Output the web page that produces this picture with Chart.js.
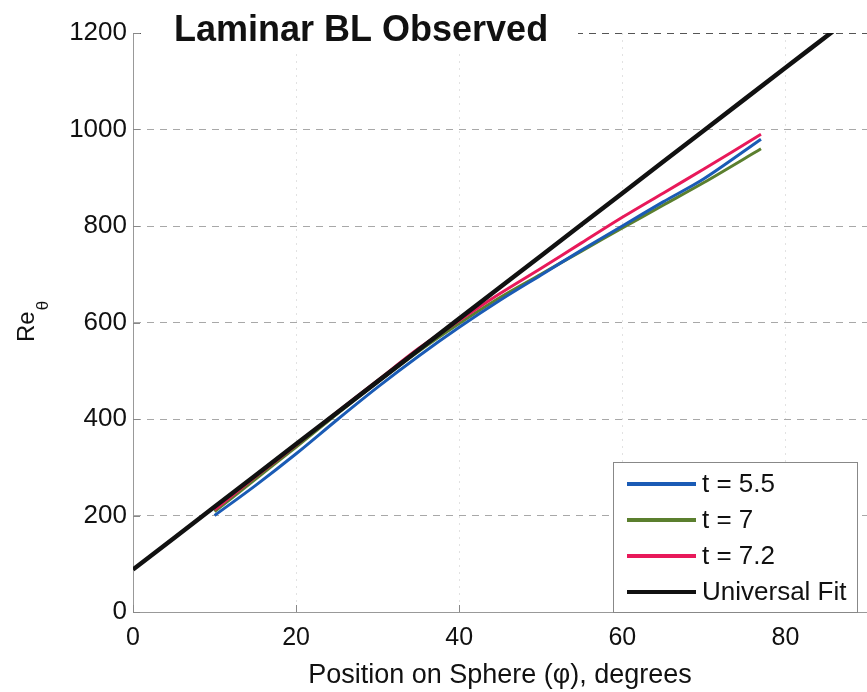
<!DOCTYPE html>
<html>
<head>
<meta charset="utf-8">
<script src="https://cdn.jsdelivr.net/npm/chart.js@4.4.0/dist/chart.umd.min.js"></script>
<style>
  html, body { margin: 0; padding: 0; background: #fff; }
  #wrap { width: 867px; height: 692px; position: relative; }
</style>
</head>
<body>
<div id="wrap"><canvas id="chart" width="867" height="692"></canvas></div>
<script>
// ---- data ----
const phi = [10, 15, 20, 25, 30, 35, 40, 45, 50, 55, 60, 65, 70, 77];
const reT55 = [200, 262, 328, 398, 466, 530, 590, 646, 698, 750, 800, 850, 898, 980];
const reT7 = [208, 275, 342, 410, 476, 540, 598, 652, 700, 748, 796, 843, 890, 960];
const reT72 = [212, 280, 346, 414, 480, 546, 604, 660, 712, 765, 818, 868, 918, 990];

const fitPhi = [0, 10, 20, 30, 40, 50, 60, 70, 80, 85.8];
const fitRe = [88, 218, 348, 478, 608, 738, 868, 998, 1128, 1203];

const seriesLabels = ['t = 5.5', 't = 7', 't = 7.2', 'Universal Fit'];
const seriesColors = ['#1a5bb5', '#5b7f2e', '#e8195a', '#111111'];

const yTicks = [0, 200, 400, 600, 800, 1000, 1200];
const xTicks = [0, 20, 40, 60, 80];

const FONT = "'Liberation Sans', Arial, Helvetica, sans-serif";

function pts(xs, ys) {
    return xs.map((x, i) => ({ x: x, y: ys[i] }));
}

// title drawn over the top of the plot box, with white behind it
const titlePlugin = {
    id: 'topTitle',
    afterDraw(chart) {
        const ctx = chart.ctx;
        ctx.save();
        ctx.fillStyle = '#fff';
        ctx.fillRect(142, 10, 436, 44);
        ctx.font = 'bold 36px ' + FONT;
        ctx.fillStyle = '#111';
        ctx.textBaseline = 'middle';
        ctx.fillText('Laminar BL Observed', 174, 31);
        ctx.restore();
    }
};

// y axis label Re with subscript theta
const yLabelPlugin = {
    id: 'yLabel',
    afterDraw(chart) {
        const ctx = chart.ctx;
        ctx.save();
        ctx.translate(34, 342);
        ctx.rotate(-Math.PI / 2);
        ctx.fillStyle = '#111';
        ctx.textBaseline = 'alphabetic';
        ctx.font = '24px ' + FONT;
        ctx.fillText('Re', 0, 0);
        const w = ctx.measureText('Re').width;
        ctx.font = '17px ' + FONT;
        ctx.fillText('θ', w + 1, 14);
        ctx.restore();
    }
};

// small inward tick marks, matlab style
const innerTicks = {
    id: 'innerTicks',
    afterDatasetsDraw(chart) {
        const ctx = chart.ctx;
        const ca = chart.chartArea;
        const sx = chart.scales.x, sy = chart.scales.y;
        ctx.save();
        ctx.strokeStyle = '#888';
        ctx.lineWidth = 1;
        ctx.beginPath();
        xTicks.forEach(v => {
            const px = Math.round(sx.getPixelForValue(v)) + 0.5;
            ctx.moveTo(px, ca.bottom);
            ctx.lineTo(px, ca.bottom - 7);
        });
        yTicks.forEach(v => {
            const py = Math.round(sy.getPixelForValue(v)) + 0.5;
            ctx.moveTo(ca.left, py);
            ctx.lineTo(ca.left + 7, py);
        });
        ctx.stroke();
        ctx.restore();
    }
};

// legend box inside the plot, lower right
const boxLegend = {
    id: 'boxLegend',
    afterDraw(chart) {
        const ctx = chart.ctx;
        const ca = chart.chartArea;
        const w = 244, h = 150;
        const x0 = ca.right - 10 - w;
        const y0 = ca.bottom - h;
        ctx.save();
        ctx.fillStyle = '#fff';
        ctx.fillRect(x0, y0, w, h);
        ctx.strokeStyle = '#888';
        ctx.lineWidth = 1;
        ctx.strokeRect(x0 + 0.5, y0 + 0.5, w, h);
        ctx.font = '26px ' + FONT;
        ctx.textBaseline = 'middle';
        chart.data.datasets.forEach((ds, i) => {
            const y = y0 + 22 + i * 36;
            ctx.strokeStyle = ds.borderColor;
            ctx.lineWidth = 4;
            ctx.beginPath();
            ctx.moveTo(x0 + 14, y);
            ctx.lineTo(x0 + 83, y);
            ctx.stroke();
            ctx.fillStyle = '#111';
            ctx.fillText(ds.label, x0 + 89, y + 1);
        });
        ctx.restore();
    }
};

new Chart(document.getElementById('chart'), {
    type: 'line',
    data: {
        datasets: [
            { label: seriesLabels[0], data: pts(phi, reT55), borderColor: seriesColors[0], borderWidth: 3, order: 2 },
            { label: seriesLabels[1], data: pts(phi, reT7), borderColor: seriesColors[1], borderWidth: 3, order: 3 },
            { label: seriesLabels[2], data: pts(phi, reT72), borderColor: seriesColors[2], borderWidth: 3, order: 1 },
            { label: seriesLabels[3], data: pts(fitPhi, fitRe), borderColor: seriesColors[3], borderWidth: 4.5, order: 0 }
        ]
    },
    options: {
        responsive: false,
        animation: false,
        devicePixelRatio: 1,
        layout: { padding: { top: 33, right: 0, bottom: 0, left: 0 } },
        elements: {
            point: { radius: 0 },
            line: { tension: 0.3, fill: false }
        },
        plugins: {
            legend: { display: false },
            tooltip: { enabled: false }
        },
        scales: {
            x: {
                type: 'linear',
                min: 0,
                max: 90,
                afterBuildTicks: s => { s.ticks = xTicks.map(v => ({ value: v })); },
                afterFit: s => { s.height = 80; },
                ticks: {
                    color: '#111', font: { family: FONT, size: 25 }, padding: 11, maxRotation: 0,
                    callback: v => String(v)
                },
                grid: { color: '#e2e2e2', drawTicks: false, lineWidth: 1 },
                border: { color: '#999', width: 1, dash: [2, 5] },
                title: {
                    display: true,
                    text: 'Position on Sphere (φ), degrees',
                    color: '#111',
                    font: { family: FONT, size: 27 },
                    padding: { top: 0, bottom: 0 }
                }
            },
            y: {
                min: 0,
                max: 1200,
                afterBuildTicks: s => { s.ticks = yTicks.map(v => ({ value: v })); },
                afterFit: s => { s.width = 133; },
                ticks: {
                    color: '#111', font: { family: FONT, size: 26 }, padding: 6,
                    callback: v => String(v)
                },
                grid: {
                    color: c => (c.tick && c.tick.value === 1200) ? '#555' : '#a8a8a8',
                    drawTicks: false,
                    lineWidth: 1
                },
                border: { color: '#999', width: 1, dash: [7, 6] }
            }
        }
    },
    plugins: [titlePlugin, yLabelPlugin, innerTicks, boxLegend]
});
</script>
</body>
</html>
